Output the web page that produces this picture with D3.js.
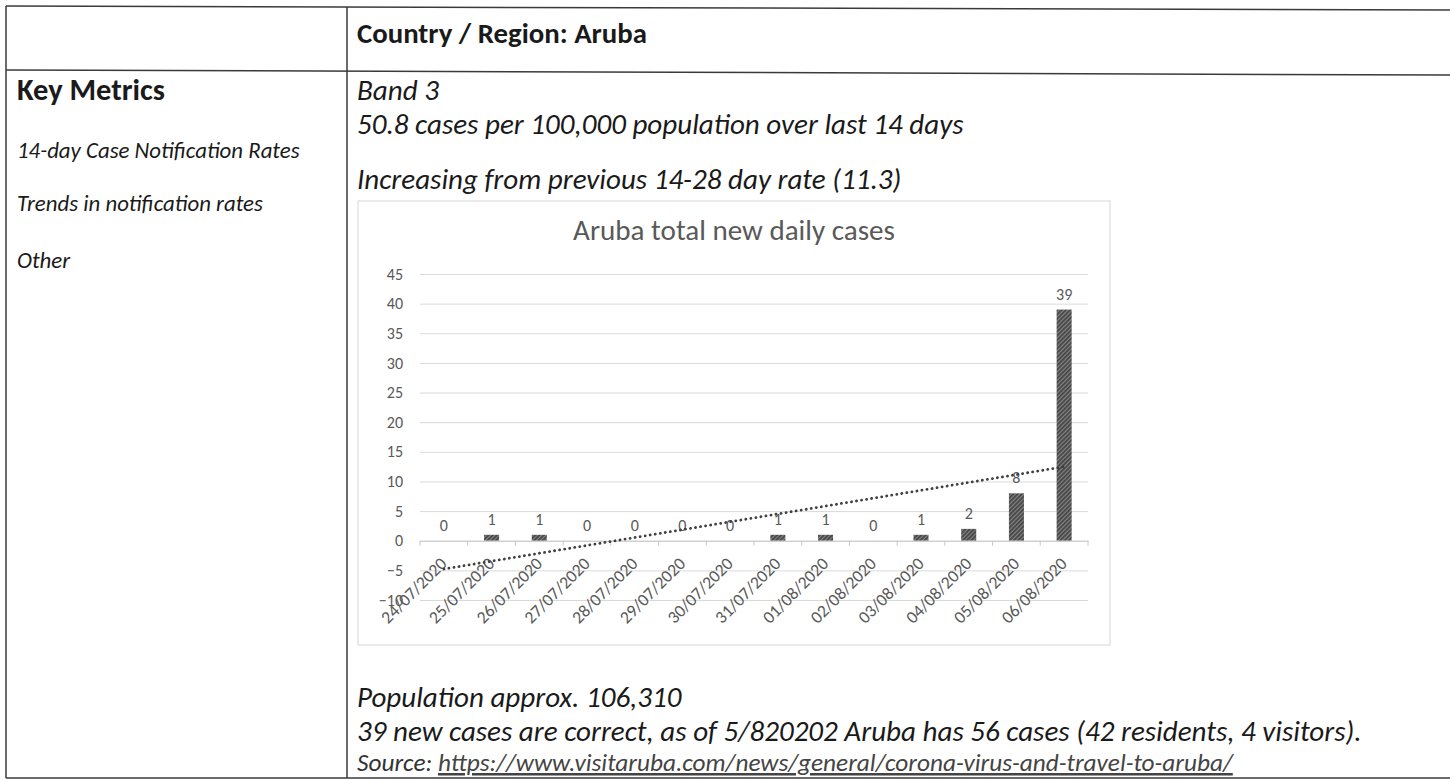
<!DOCTYPE html>
<html>
<head>
<meta charset="utf-8">
<script src="https://cdn.jsdelivr.net/npm/d3@7/dist/d3.min.js"></script>
<style>
  html, body { margin: 0; padding: 0; background: #fff; }
  svg { display: block; }
</style>
</head>
<body>
<svg id="page" width="1450" height="779"></svg>
<script>
// ---- data ----
const categories = ["24/07/2020","25/07/2020","26/07/2020","27/07/2020","28/07/2020","29/07/2020","30/07/2020",
                    "31/07/2020","01/08/2020","02/08/2020","03/08/2020","04/08/2020","05/08/2020","06/08/2020"];
const newCases = [0,1,1,0,0,0,0,1,1,0,1,2,8,39];
const yTicks = [-10,-5,0,5,10,15,20,25,30,35,40,45];
const chartTitle = "Aruba total new daily cases";
const headerText = "Country / Region: Aruba";
const leftColumnTexts = ["Key Metrics","14-day Case Notification Rates","Trends in notification rates","Other"];
const rightTopTexts = ["Band 3","50.8 cases per 100,000 population over last 14 days","Increasing from previous 14-28 day rate (11.3)"];
const bottomTexts = ["Population approx. 106,310","39 new cases are correct, as of 5/820202 Aruba has 56 cases (42 residents, 4 visitors)."];
const sourceLabel = "Source: ";
const sourceUrl = "https://www.visitaruba.com/news/general/corona-virus-and-travel-to-aruba/";

// ---- helpers ----
const FONT = "Carlito, Lato, 'Open Sans', sans-serif";
const svg = d3.select("#page");
const lineCol = "#3a3a3a";

function fitSize(txt, base, target, bold, italic) {
  const t = svg.append("text").attr("font-family", FONT).attr("font-size", base)
    .attr("font-weight", bold ? "bold" : "normal").attr("font-style", italic ? "italic" : "normal").text(txt);
  const w = t.node().getComputedTextLength();
  t.remove();
  return w > 0 ? base * target / w : base;
}
function addText(x, y, txt, size, opts) {
  return svg.append("text").attr("x", x).attr("y", y)
    .attr("font-family", FONT).attr("font-size", size.toFixed(2))
    .attr("font-weight", opts.bold ? "bold" : "normal")
    .attr("font-style", opts.italic ? "italic" : "normal")
    .attr("fill", opts.fill || "#1a1a1a")
    .text(txt);
}

// table lines (slightly skewed like the scanned page)
const tbl = svg.append("g").attr("stroke", lineCol).attr("stroke-width", 1.5);
tbl.append("line").attr("x1", 6).attr("x2", 1450).attr("y1", 6).attr("y2", 10);
tbl.append("line").attr("x1", 6).attr("x2", 1450).attr("y1", 70).attr("y2", 75);
tbl.append("line").attr("x1", 6).attr("x2", 1450).attr("y1", 778).attr("y2", 778);
tbl.append("line").attr("x1", 6).attr("x2", 6).attr("y1", 6).attr("y2", 778);
tbl.append("line").attr("x1", 347).attr("x2", 347).attr("y1", 7).attr("y2", 778);

// font sizes derived from measured line widths
const bodySize = fitSize(bottomTexts[1], 20, 1005, false, true);
const boldSize = fitSize(leftColumnTexts[0], 20, 148, true, false);
const headSize = fitSize(headerText, 20, 290, true, false);
const smallSize = fitSize(leftColumnTexts[2], 16, 246, false, true);
const srcSize = fitSize(sourceLabel + sourceUrl, 15, 876, false, true);

// header
addText(357, 43, headerText, headSize, {bold: true});
// left column
addText(17, 100, leftColumnTexts[0], boldSize, {bold: true});
addText(17, 158, leftColumnTexts[1], smallSize, {italic: true});
addText(17, 211, leftColumnTexts[2], smallSize, {italic: true});
addText(17, 268, leftColumnTexts[3], smallSize, {italic: true});
// right column, top
addText(357, 100, rightTopTexts[0], bodySize, {italic: true});
addText(357, 134, rightTopTexts[1], bodySize, {italic: true});
addText(357, 189, rightTopTexts[2], bodySize, {italic: true});
// right column, bottom
addText(357, 707, bottomTexts[0], bodySize, {italic: true});
addText(357, 741, bottomTexts[1], bodySize, {italic: true});
const src = svg.append("text").attr("x", 357).attr("y", 771)
  .attr("font-family", FONT).attr("font-size", srcSize.toFixed(2)).attr("font-style", "italic").attr("fill", "#333");
src.append("tspan").text(sourceLabel);
src.append("tspan").attr("text-decoration", "underline").attr("fill", "#444").text(sourceUrl);

// ---- chart ----
const box = {x0: 358, y0: 201, x1: 1110, y1: 645};
svg.append("rect").attr("x", box.x0).attr("y", box.y0)
  .attr("width", box.x1 - box.x0).attr("height", box.y1 - box.y0)
  .attr("fill", "#fff").attr("stroke", "#d6d6d6").attr("stroke-width", 1);

const plot = {left: 420, right: 1088, top: 274, bottom: 600};
const x = d3.scaleBand().domain(categories).range([plot.left, plot.right])
  .paddingInner(0.685).paddingOuter(0.3425);
const y = d3.scaleLinear().domain([-10, 45]).range([plot.bottom, plot.top]);

// title
const titleSize = fitSize(chartTitle, 20, 322, false, false);
svg.append("text").attr("x", (box.x0 + box.x1) / 2).attr("y", 240)
  .attr("text-anchor", "middle").attr("font-family", FONT).attr("font-size", titleSize.toFixed(2))
  .attr("fill", "#595959").text(chartTitle);

// gridlines
const grid = svg.append("g").attr("transform", `translate(${plot.left},0)`)
  .call(d3.axisLeft(y).tickValues(yTicks).tickSize(-(plot.right - plot.left)).tickFormat(""));
grid.select(".domain").remove();
grid.selectAll(".tick line").attr("stroke", "#d9d9d9").attr("stroke-width", 1);

// y axis labels
const yAxis = svg.append("g").attr("transform", `translate(${plot.left},0)`)
  .call(d3.axisLeft(y).tickValues(yTicks).tickSize(0).tickPadding(17));
yAxis.select(".domain").remove();
yAxis.selectAll("text").attr("font-family", FONT).attr("font-size", 16).attr("fill", "#595959");

// pattern for bars
const defs = svg.append("defs");
const pat = defs.append("pattern").attr("id", "hatch").attr("patternUnits", "userSpaceOnUse")
  .attr("width", 3).attr("height", 3).attr("patternTransform", "rotate(45)");
pat.append("rect").attr("width", 3).attr("height", 3).attr("fill", "#858585");
pat.append("rect").attr("width", 1.8).attr("height", 3).attr("fill", "#454545");

// bars
svg.append("g").selectAll("rect").data(newCases).join("rect")
  .attr("x", (d, i) => x(categories[i]))
  .attr("width", x.bandwidth())
  .attr("y", d => y(Math.max(0, d)))
  .attr("height", d => Math.abs(y(d) - y(0)))
  .attr("fill", "url(#hatch)");

// category axis on the zero line with tick marks at category boundaries
const xAxis = svg.append("g").attr("transform", `translate(0,${y(0)})`)
  .call(d3.axisBottom(x).tickSize(0).tickPadding(0));
xAxis.select(".domain").attr("stroke", "#c8c8c8").attr("stroke-width", 1);
const step = x.step();
const bounds = d3.range(categories.length + 1).map(i => plot.left + i * step);
xAxis.append("g").selectAll("line").data(bounds).join("line")
  .attr("x1", d => d).attr("x2", d => d).attr("y1", 0).attr("y2", 5)
  .attr("stroke", "#c8c8c8");
xAxis.selectAll(".tick text")
  .attr("font-family", FONT).attr("font-size", 17.5).attr("fill", "#595959")
  .attr("text-anchor", "end").attr("dy", null)
  .attr("transform", `translate(4,24) rotate(-45)`);

// data labels
svg.append("g").selectAll("text").data(newCases).join("text")
  .attr("x", (d, i) => x(categories[i]) + x.bandwidth() / 2)
  .attr("y", d => y(Math.max(0, d)) - 10)
  .attr("text-anchor", "middle").attr("font-family", FONT).attr("font-size", 16)
  .attr("fill", "#595959").text(d => d);

// linear trendline (least squares of the series)
const n = newCases.length;
const xs = d3.range(n);
const mx = d3.mean(xs), my = d3.mean(newCases);
const slope = d3.sum(xs, i => (i - mx) * (newCases[i] - my)) / d3.sum(xs, i => (i - mx) ** 2);
const icpt = my - slope * mx;
const cx = i => x(categories[i]) + x.bandwidth() / 2;
svg.append("line")
  .attr("x1", cx(0)).attr("y1", y(icpt))
  .attr("x2", cx(n - 1)).attr("y2", y(icpt + slope * (n - 1)))
  .attr("stroke", "#404040").attr("stroke-width", 2.8)
  .attr("stroke-dasharray", "0.1,5").attr("stroke-linecap", "round");
</script>
</body>
</html>
